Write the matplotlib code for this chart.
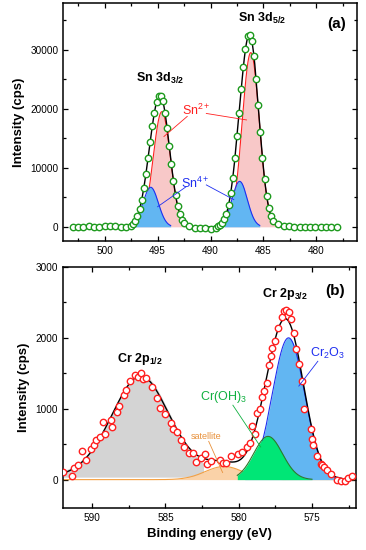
import numpy as np
import matplotlib
matplotlib.use('Agg')
import matplotlib.pyplot as plt
from matplotlib.ticker import MultipleLocator

plt.rcParams['font.family'] = ['Liberation Sans', 'DejaVu Sans']
plt.rcParams['mathtext.default'] = 'regular'

# ---------------- Panel (a): Sn 3d ----------------
sn_be = [503.0, 502.5, 502.0, 501.5, 501.0, 500.5, 500.0, 499.5, 499.0, 498.5, 498.0, 497.5,
         497.3, 497.1, 496.9, 496.7, 496.5, 496.3, 496.1, 495.9, 495.7, 495.5, 495.3, 495.1,
         494.9, 494.7, 494.5, 494.3, 494.1, 493.9, 493.7, 493.5, 493.3, 493.1, 492.9, 492.7, 492.5,
         492.0, 491.5, 491.0, 490.5, 490.0, 489.5,
         489.3, 489.1, 488.9, 488.7, 488.5, 488.3, 488.1, 487.9, 487.7, 487.5, 487.3, 487.1,
         486.9, 486.7, 486.5, 486.3, 486.1, 485.9, 485.7, 485.5, 485.3, 485.1, 484.9, 484.7,
         484.5, 484.3, 484.1,
         483.6, 483.1, 482.6, 482.1, 481.6, 481.1, 480.6, 480.1, 479.6, 479.1, 478.6, 478.1]
sn_cps = [0, 30, 50, 60, 40, 20, 150, 80, 60, 30, 50, 150,
          560, 1050, 1830, 2980, 4570, 6590, 8980, 11640, 14380, 17030, 19340, 21100,
          22100, 22170, 21230, 19360, 16760, 13740, 10640, 7780, 5360, 3480, 2130, 1220, 660,
          200, -150, -250, -200, -300, -150,
          150, 335, 670, 1270, 2230, 3670, 5690, 8340, 11580, 15310, 19330, 23370,
          27090, 30110, 32300, 32450, 31440, 28870, 25110, 20660, 16040, 11740, 8090, 5250,
          3210, 1840, 1000,
          420, 200, 90, 40, 10, 30, 20, 10, 30, 40, 20, 30]

# fit components: (centre eV, height cps, FWHM eV)
sn2_52 = (486.2, 29500, 1.9)
sn4_52 = (487.25, 7700, 1.7)
sn2_32 = (494.6, 19500, 1.9)
sn4_32 = (495.65, 6700, 1.7)

# ---------------- Panel (b): Cr 2p ----------------
cr_be = [592.0, 591.4, 591.25, 590.95, 590.7, 590.4, 590.1, 589.9, 589.75, 589.45, 589.25, 589.1,
         588.75, 588.65, 588.3, 588.15, 587.85, 587.7, 587.4, 587.1, 586.9, 586.7, 586.55, 586.35,
         585.9, 585.6, 585.35, 585.05, 584.65, 584.5, 584.2, 583.95, 583.75, 583.4, 583.15, 582.95,
         582.6, 582.3, 582.2, 581.9, 581.3, 581.1, 580.85, 580.5, 580.05, 579.75, 579.45, 579.25,
         579.1, 578.9, 578.75, 578.55, 578.4, 578.25, 578.05, 577.95, 577.8, 577.7, 577.5, 577.3,
         577.05, 576.9, 576.75, 576.6, 576.45, 576.25, 576.1, 575.9, 575.7, 575.55, 575.1, 575.0,
         574.9, 574.65, 574.4, 574.3, 574.15, 574.0, 573.7, 573.3, 573.0, 572.75, 572.55, 572.3]
cr_cps = [114, 57, 166, 200, 399, 270, 437, 484, 560, 600, 817, 641,
          840, 745, 960, 1040, 1195, 1270, 1385, 1480, 1450, 1505, 1420, 1435,
          1305, 1150, 1005, 920, 800, 720, 675, 555, 460, 375, 375, 245,
          300, 365, 225, 260, 270, 235, 235, 340, 365, 390, 460, 510,
          755, 640, 945, 1000, 1170, 1250, 1370, 1620, 1740, 1860, 1950, 2140,
          2290, 2380, 2400, 2370, 2270, 2070, 1840, 1630, 1390, 1000, 710, 580,
          490, 330, 220, 200, 180, 130, 80, -10, -20, -15, 20, 50]

# fit components: (centre eV, height cps, FWHM eV, lorentz fraction)
cr2p12 = (586.7, 1460, 4.8, 0.2)
cr_sat = (581.0, 185, 3.06, 0.0)
cr_oh3 = (578.0, 610, 2.3, 0.0)
cr2o3 = (576.6, 2000, 2.6, 0.0)


def peak(x, p):
    c, h, w = p[0], p[1], p[2]
    eta = p[3] if len(p) > 3 else 0.0
    s = w / (2 * np.sqrt(2 * np.log(2)))
    g = np.exp(-(x - c) ** 2 / (2 * s ** 2))
    l = 1.0 / (1.0 + ((x - c) / (w / 2)) ** 2)
    return h * ((1 - eta) * g + eta * l)


fig = plt.figure(figsize=(3.66, 5.5), dpi=100)
axa = fig.add_axes([0.173, 0.5618, 0.8016, 0.4327])
axb = fig.add_axes([0.172, 0.0764, 0.8005, 0.4382])

FS_TICK = 7.2
FS_LAB = 9.5

def style(ax):
    ax.tick_params(which='both', direction='in', top=True, right=True,
                   labelsize=FS_TICK, width=0.9)
    ax.tick_params(which='major', length=3.5)
    ax.tick_params(which='minor', length=2.2)
    for sp in ax.spines.values():
        sp.set_linewidth(1.1)

# ---- panel (a)
xa = np.linspace(478, 504, 1500)
def comp(ax, x, p, lo, hi, fc, ec, z):
    m = (x >= lo) & (x <= hi)
    y = peak(x[m], p)
    ax.fill_between(x[m], 0, y, color=fc, lw=0, zorder=z)
    ax.plot(x[m], y, color=ec, lw=0.8, zorder=z + 0.5)

pink = '#F8C8C8'
lblue = '#62B6F2'
comp(axa, xa, sn2_32, sn2_32[0] - 2.5, sn2_32[0] + 2.5, pink, '#FF2020', 1)
comp(axa, xa, sn2_52, sn2_52[0] - 2.5, sn2_52[0] + 2.5, pink, '#FF2020', 1)
comp(axa, xa, sn4_32, sn4_32[0] - 1.9, sn4_32[0] + 1.9, lblue, '#1E2EF0', 3)
comp(axa, xa, sn4_52, sn4_52[0] - 1.9, sn4_52[0] + 1.9, lblue, '#1E2EF0', 3)
me = (xa >= 483.3) & (xa <= 497.6)
env_a = peak(xa, sn2_32) + peak(xa, sn2_52) + peak(xa, sn4_32) + peak(xa, sn4_52)
axa.plot(xa[me], env_a[me], color='black', lw=1.0, zorder=5)
axa.plot(sn_be, sn_cps, 'o', ms=4.6, mfc='white', mec='#1E9A1E', mew=1.0, ls='none', zorder=6)

axa.set_xlim(503.9, 476.2)
axa.set_ylim(-2400, 37900)
axa.xaxis.set_major_locator(MultipleLocator(5))
axa.xaxis.set_minor_locator(MultipleLocator(2.5))
axa.yaxis.set_major_locator(MultipleLocator(10000))
axa.yaxis.set_minor_locator(MultipleLocator(5000))
style(axa)
axa.set_ylabel('Intensity (cps)', fontsize=FS_LAB, fontweight='bold', labelpad=4)

axa.text(485.1, 35300, r'Sn 3d$_{5/2}$', fontsize=9, fontweight='bold', ha='center', va='center')
axa.text(494.8, 25100, r'Sn 3d$_{3/2}$', fontsize=9, fontweight='bold', ha='center', va='center')
axa.text(478.1, 34300, '(a)', fontsize=11, fontweight='bold', ha='center', va='center')
axa.text(491.3, 19800, r'Sn$^{2+}$', fontsize=9, color='#FF2020', ha='center', va='center')
axa.text(491.4, 7300, r'Sn$^{4+}$', fontsize=9, color='#1E2EF0', ha='center', va='center')
axa.plot([492.2, 494.4], [18700, 15300], color='#FF2020', lw=0.6, zorder=7)
axa.plot([490.4, 486.6], [19200, 18100], color='#FF2020', lw=0.6, zorder=7)
axa.plot([492.3, 495.0], [6800, 3400], color='#1E2EF0', lw=0.6, zorder=7)
axa.plot([490.4, 487.8], [7100, 4600], color='#1E2EF0', lw=0.6, zorder=7)

# ---- panel (b)
xb = np.linspace(572, 592, 1500)
def compb(ax, x, p, lo, hi, fc, ec, z, base=0.0):
    m = (x >= lo) & (x <= hi)
    y = peak(x[m], p)
    ax.fill_between(x[m], base, y + base, color=fc, lw=0, zorder=z)
    ax.plot(x[m], y + base, color=ec, lw=0.8, zorder=z + 0.5)

axb.fill_between(xb[(xb >= 582.4)], 35, peak(xb[(xb >= 582.4)], cr2p12) + 35, color='#D4D4D4', lw=0, zorder=1)
compb(axb, xb, cr_sat, 572, 592, '#FAD2A8', '#F5A040', 2)
compb(axb, xb, cr2o3, 573.4, 579.6, lblue, '#1E2EF0', 3)
compb(axb, xb, cr_oh3, 575.0, 580.1, '#00E676', '#2D7A2D', 4)
env_b = peak(xb, cr2p12) + peak(xb, cr_sat) + peak(xb, cr_oh3) + peak(xb, cr2o3)
mb = (xb >= 573.0)
axb.plot(xb[mb], env_b[mb], color='black', lw=1.0, zorder=5)
axb.plot(cr_be, cr_cps, 'o', ms=4.6, mfc='white', mec='#FF2020', mew=1.0, ls='none', zorder=6)

axb.set_xlim(592.0, 572.0)
axb.set_ylim(-400, 3000)
axb.xaxis.set_major_locator(MultipleLocator(5))
axb.xaxis.set_minor_locator(MultipleLocator(2.5))
axb.yaxis.set_major_locator(MultipleLocator(1000))
axb.yaxis.set_minor_locator(MultipleLocator(500))
style(axb)
axb.set_ylabel('Intensity (cps)', fontsize=FS_LAB, fontweight='bold', labelpad=4)
axb.set_xlabel('Binding energy (eV)', fontsize=FS_LAB, fontweight='bold', labelpad=4)

axb.text(576.87, 2620, r'Cr 2p$_{3/2}$', fontsize=9, fontweight='bold', ha='center', va='center')
axb.text(573.4, 2665, '(b)', fontsize=11, fontweight='bold', ha='center', va='center')
axb.text(586.75, 1695, r'Cr 2p$_{1/2}$', fontsize=9, fontweight='bold', ha='center', va='center')
axb.text(581.06, 1170, r'Cr(OH)$_3$', fontsize=9, color='#10B040', ha='center', va='center')
axb.text(573.97, 1780, r'Cr$_2$O$_3$', fontsize=9, color='#1E2EF0', ha='center', va='center')
axb.text(582.2, 612, 'satellite', fontsize=6.5, color='#E8903A', ha='center', va='center')
axb.plot([574.6, 575.9], [1670, 1320], color='#1E2EF0', lw=0.6, zorder=7)
axb.plot([580.4, 578.5], [1050, 460], color='#10B040', lw=0.6, zorder=7)
axb.plot([582.05, 581.1], [540, 100], color='#E8903A', lw=0.6, zorder=7)

fig.savefig('out.png', dpi=100)
